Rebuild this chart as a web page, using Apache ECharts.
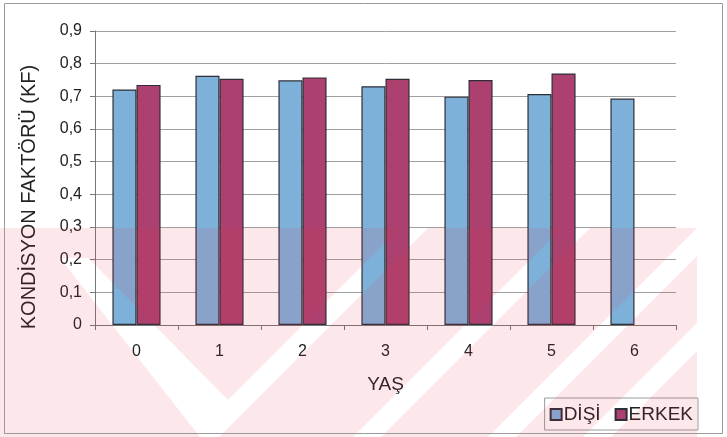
<!DOCTYPE html>
<html>
<head>
<meta charset="utf-8">
<script src="https://cdn.jsdelivr.net/npm/echarts@6/dist/echarts.min.js"></script>
<style>
  html, body { margin: 0; padding: 0; background: #fff; }
  #chart { width: 727px; height: 437px; }
</style>
</head>
<body>
<div id="chart"></div>
<script>
// Age classes (years)
const ages = ['0', '1', '2', '3', '4', '5', '6'];
// Condition factor by sex
const disi = [0.721, 0.763, 0.749, 0.731, 0.699, 0.707, 0.693];
const erkek = [0.735, 0.754, 0.758, 0.754, 0.750, 0.770, null];
// Value axis ticks
const yTicks = [0, 0.1, 0.2, 0.3, 0.4, 0.5, 0.6, 0.7, 0.8, 0.9];
const yTitle = 'KONDİSYON FAKTÖRÜ (KF)';

const FONT = "'Liberation Sans', Arial, sans-serif";

// Faint diagonal background stamp drawn on an offscreen canvas
function buildStamp(w, h) {
  const c = document.createElement('canvas');
  c.width = w; c.height = h;
  const g = c.getContext('2d');
  const top = 228;
  g.fillStyle = 'rgb(235,40,70)';
  g.fillRect(0, top, 697, h - top);
  g.globalCompositeOperation = 'destination-out';
  const upRight = (c0, c1) => {
    g.beginPath();
    g.moveTo(c0 - top, top); g.lineTo(c1 - top, top);
    g.lineTo(c1 - h, h); g.lineTo(c0 - h, h); g.closePath(); g.fill();
  };
  // V-shaped cut on the left
  g.beginPath();
  g.moveTo(60, 258); g.lineTo(88, 258);
  g.lineTo(228, 400); g.lineTo(400, top); g.lineTo(428, top);
  g.lineTo(219, 437); g.lineTo(200, 437);
  g.closePath(); g.fill();
  upRight(790, 818);
  upRight(925, 953);
  upRight(1020, 1048);
  return c;
}

const chart = echarts.init(document.getElementById('chart'), null, { renderer: 'canvas' });

chart.setOption({
  animation: false,
  backgroundColor: '#ffffff',
  textStyle: { fontFamily: FONT },
  grid: { left: 95, right: 51, top: 31, bottom: 112, containLabel: false },
  legend: {
    data: ['DİŞİ', 'ERKEK'],
    right: 29, bottom: 7,
    itemWidth: 11, itemHeight: 11, itemGap: 14,
    padding: [7, 5, 6, 5],
    borderColor: '#9a9a9a', borderWidth: 1,
    textStyle: { fontFamily: FONT, fontSize: 19, color: '#222', padding: [0, 0, 0, -3] },
    icon: 'rect'
  },
  xAxis: {
    type: 'category',
    data: ages,
    name: 'YAŞ',
    nameLocation: 'middle',
    nameGap: 50,
    nameTextStyle: { fontFamily: FONT, fontSize: 19, color: '#222' },
    axisLine: { lineStyle: { color: '#777', width: 1 } },
    axisTick: { show: true, length: 5, inside: false, lineStyle: { color: '#777' } },
    axisLabel: { fontFamily: FONT, fontSize: 16, color: '#222', margin: 19 },
    splitLine: { show: false }
  },
  yAxis: {
    type: 'value',
    min: yTicks[0],
    max: yTicks[yTicks.length - 1],
    interval: 0.1,
    axisLine: { show: true, lineStyle: { color: '#777', width: 1 } },
    axisTick: { show: true, length: 5, lineStyle: { color: '#777' } },
    axisLabel: {
      fontFamily: FONT, fontSize: 16, color: '#222', margin: 13,
      formatter: v => (v === 0 ? '0' : v.toFixed(1).replace('.', ','))
    },
    splitLine: { show: true, lineStyle: { color: '#a0a0a0', width: 1 } }
  },
  series: [
    {
      name: 'DİŞİ', type: 'bar', data: disi,
      barGap: '0%', barCategoryGap: '42%',
      itemStyle: { color: '#7db1d9', borderColor: '#2e2e38', borderWidth: 1.2 }
    },
    {
      name: 'ERKEK', type: 'bar', data: erkek,
      itemStyle: { color: '#ac416f', borderColor: '#2e2e38', borderWidth: 1.2 }
    }
  ],
  graphic: [
    {
      // vertical value-axis title
      type: 'text', silent: true, z: 50,
      x: 29, y: 197, rotation: Math.PI / 2,
      style: {
        text: yTitle, fontFamily: FONT, fontSize: 20, fill: '#222',
        align: 'center', verticalAlign: 'middle'
      }
    },
    {
      type: 'rect', silent: true, z: 100,
      shape: { x: 4.5, y: 3.5, width: 718, height: 430 },
      style: { fill: 'none', stroke: '#9a9a9a', lineWidth: 1 }
    },
    {
      type: 'image', silent: true, z: 99, left: 0, top: 0,
      style: { image: buildStamp(727, 437), x: 0, y: 0, width: 727, height: 437, opacity: 0.1 }
    }
  ]
});
</script>
</body>
</html>
